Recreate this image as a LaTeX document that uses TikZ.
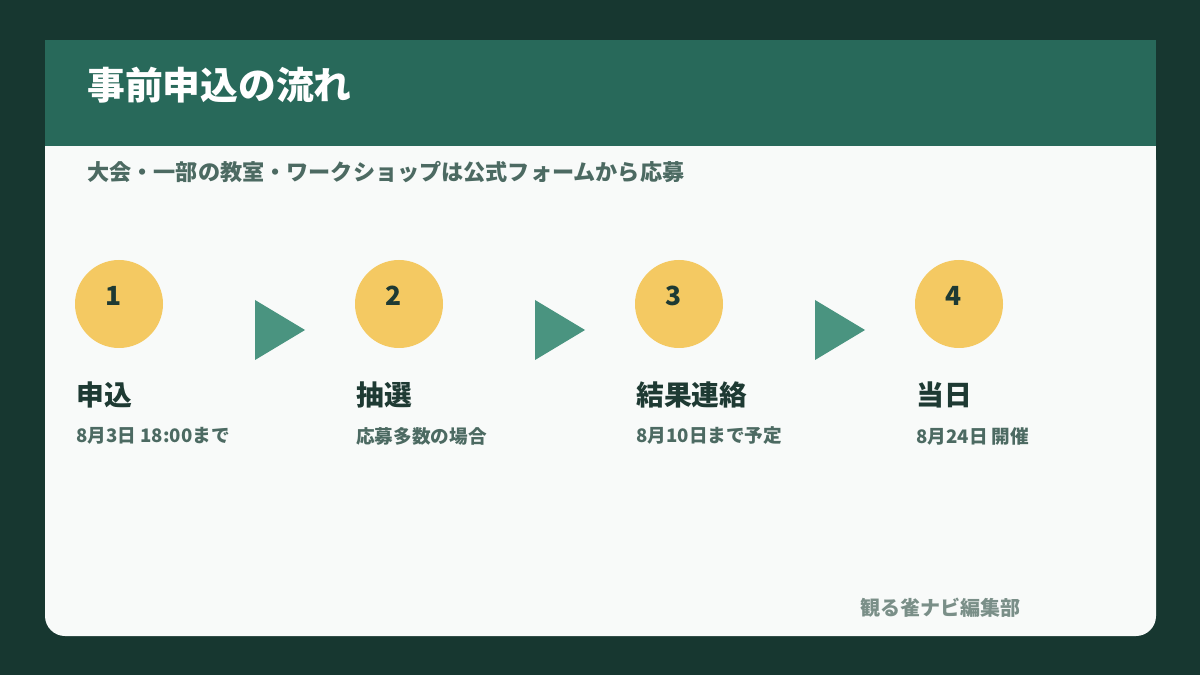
\documentclass[tikz,border=0pt]{standalone}
\usepackage{fontspec}
\setmainfont{Noto Sans CJK JP}
\usepackage{xcolor}
\definecolor{bgdark}{HTML}{173730}
\definecolor{band}{HTML}{28695A}
\definecolor{card}{HTML}{F8FAF9}
\definecolor{subtxt}{HTML}{4C6A62}
\definecolor{ink}{HTML}{1E3A33}
\definecolor{disc}{HTML}{F4C962}
\definecolor{arrowfill}{HTML}{4A9480}
\definecolor{foot}{HTML}{7A8F88}
\usepackage{tikz}

\tikzset{
	steptitle/.style={anchor=west, inner sep=0, text=ink, font=\bfseries\fontsize{15.8}{17}\selectfont},
	stepnote/.style={anchor=west, inner sep=0, text=subtxt, font=\bfseries\fontsize{10.6}{12}\selectfont},
	stepnum/.style={circle, fill=disc, minimum size=88*0.02cm, inner sep=0},
}

\begin{document}
\begin{tikzpicture}[x=0.02cm, y=-0.02cm]

\fill[bgdark] (0,0) rectangle (1200,675);
\useasboundingbox (0,0) rectangle (1200,675);

\fill[card, rounded corners=20*0.02cm] (45,140) -- (45,636) -- (1156,636) -- (1156,140) -- cycle;
\fill[card] (45,140) rectangle (1156,200);
\fill[band] (45,40) rectangle (1156,146);

\node[anchor=west, inner sep=0, text=white, font=\bfseries\fontsize{21.5}{23}\selectfont] (title) at (87,85) {事前申込の流れ};
\node[anchor=west, inner sep=0, text=subtxt, font=\bfseries\fontsize{12.6}{14}\selectfont] (subtitle) at (87,172) {大会・一部の教室・ワークショップは公式フォームから応募};

\foreach \i/\t/\n in {0/申込/8月3日 18:00まで, 1/抽選/応募多数の場合, 2/結果連絡/8月10日まで予定, 3/当日/8月24日 開催}{
	\node[stepnum] (disc\i) at (119+280*\i,304) {};
	\node[text=ink, inner sep=0, font=\bfseries\fontsize{15}{16}\selectfont] (num\i) at (114+280*\i,296) {\the\numexpr\i+1\relax};
	\node[steptitle] (head\i) at (76+280*\i,395) {\t};
	\node[stepnote] (note\i) at (76+280*\i,436) {\n};
}

\foreach \i in {0,1,2}{
	\fill[arrowfill] (255+280*\i,300) -- (305+280*\i,330) -- (255+280*\i,360) -- cycle;
}

\node[anchor=west, inner sep=0, text=foot, font=\bfseries\fontsize{11.4}{13}\selectfont] (footer) at (860,608) {観る雀ナビ編集部};

\end{tikzpicture}
\end{document}
